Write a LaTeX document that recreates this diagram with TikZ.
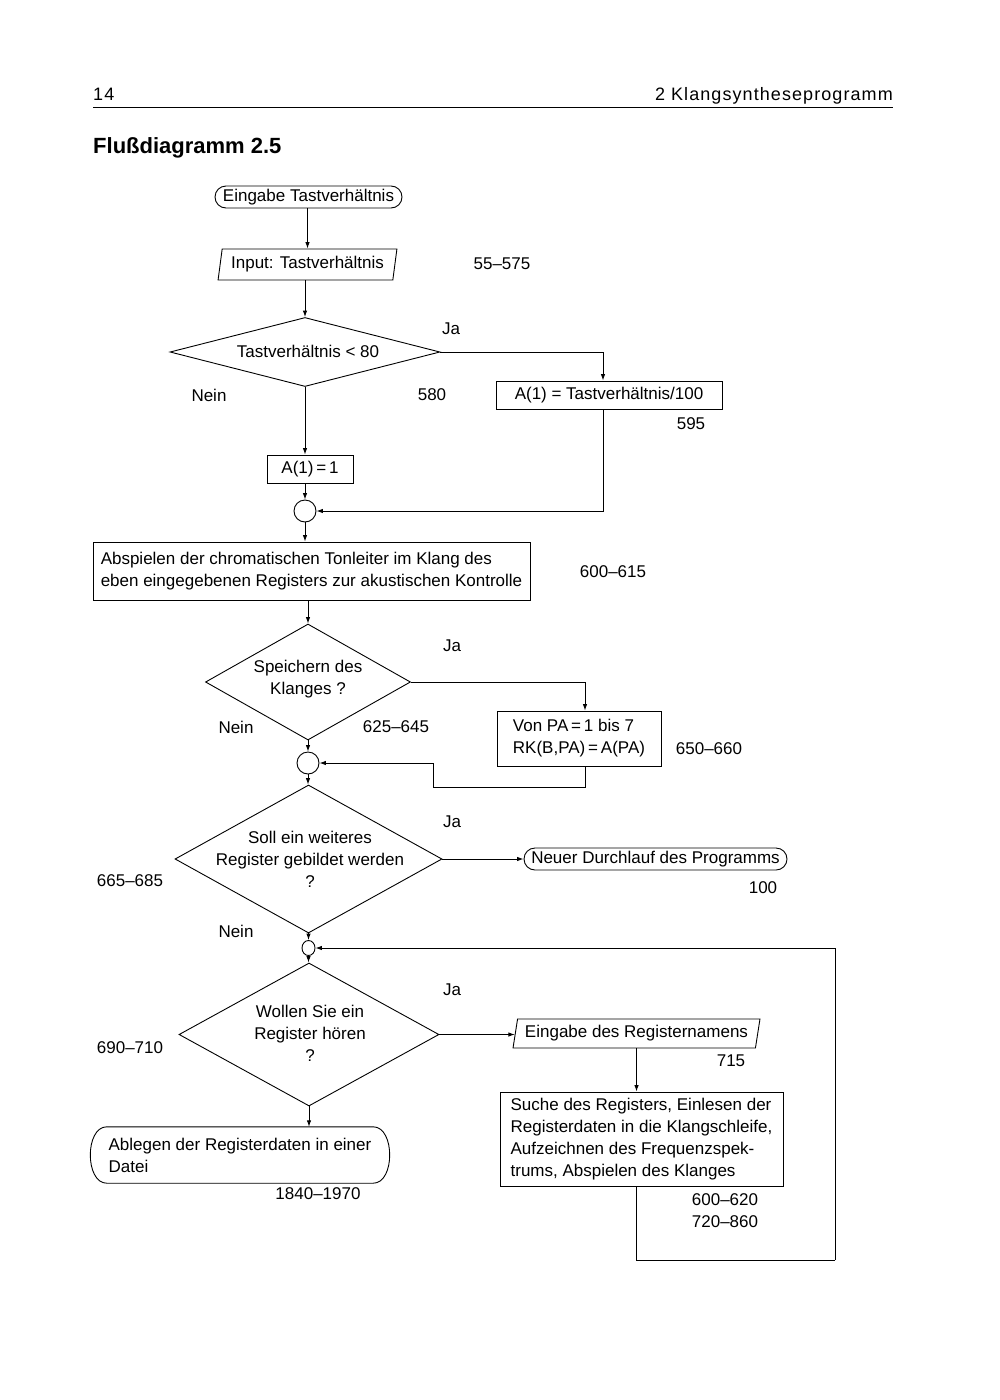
\documentclass[tikz,border=0pt]{standalone}
\usepackage{fontspec}
\setmainfont{Liberation Sans}
\newfontfamily\headfont{Liberation Sans}[LetterSpace=6]
\usetikzlibrary{shapes.geometric,shapes.misc,arrows.meta}
\begin{document}
\begin{tikzpicture}[x=1pt,y=-1pt,
  every node/.style={font=\fontsize{17}{22}\selectfont, inner sep=0pt},
  ln/.style={line width=0.9pt},
  arr/.style={line width=0.9pt,-{Latex[length=6.5pt,width=4.5pt]}},
  box/.style={draw,line width=0.9pt,rectangle,align=left},
  term/.style={draw,line width=0.9pt,rounded rectangle},
  dec/.style={draw,line width=0.9pt,diamond},
  io/.style={draw,line width=0.9pt,trapezium,trapezium stretches=true},
  junc/.style={draw,line width=0.9pt,ellipse},
  dtext/.style={align=center}
]
\useasboundingbox (0,0) rectangle (1000,1400);

% header
\node[anchor=base west,font=\headfont\fontsize{18}{22}\selectfont] (pg) at (93,100) {14};
\node[anchor=base east,font=\headfont\fontsize{18}{22}\selectfont] (chap) at (893,100) {2 Klangsyntheseprogramm};
\draw[line width=1pt] (93,107) -- (893,107);
\node[anchor=base west,font=\fontsize{22}{26}\selectfont\bfseries] (title) at (93,153) {Flußdiagramm 2.5};

% nodes
\node[term,minimum width=187,minimum height=22] (t1) at (308.5,197) {Eingabe Tastverhältnis};
\node[io,trapezium left angle=77,trapezium right angle=103,minimum width=179,minimum height=31] (p1) at (307.5,264.5) {Input: Tastverhältnis};
\node[dec,minimum width=270,minimum height=69] (d1) at (305,352) {};
\node[dtext] (d1t) at (308,351) {Tastverhältnis < 80};
\node[box,minimum width=226,minimum height=28] (b1) at (609,395) {A(1) = Tastverhältnis/100};
\node[box,minimum width=86,minimum height=28] (a1) at (310,469) {A(1)\,=\,1};
\node[junc,minimum width=22,minimum height=22] (j1) at (305,511) {};
\node[box,minimum width=437,minimum height=58] (b2) at (311.5,571) {Abspielen der chromatischen Tonleiter im Klang des\\eben eingegebenen Registers zur akustischen Kontrolle};
\node[dec,minimum width=205,minimum height=116] (d2) at (308,682) {};
\node[dtext] (d2t) at (308,679) {Speichern des\\Klanges ?};
\node[box,minimum width=164,minimum height=55] (b3) at (579,738.5) {Von PA\,=\,1 bis 7\\RK(B,PA)\,=\,A(PA)};
\node[junc,minimum width=22,minimum height=22] (j2) at (308,763) {};
\node[dec,minimum width=267,minimum height=148] (d3) at (308.5,859) {};
\node[dtext] (d3t) at (310,859) {Soll ein weiteres\\Register gebildet werden\\?};
\node[term,minimum width=263,minimum height=22] (t2) at (655.5,859) {Neuer Durchlauf des Programms};
\node[junc,minimum width=13,minimum height=15] (j3) at (308.5,948) {};
\node[dec,minimum width=260,minimum height=143] (d4) at (309,1034.5) {};
\node[dtext] (d4t) at (310,1033) {Wollen Sie ein\\Register hören\\?};
\node[io,trapezium left angle=75,trapezium right angle=105,minimum width=247,minimum height=29] (p2) at (636.5,1033.5) {Eingabe des Registernamens};
\node[box,minimum width=283,minimum height=94] (b4) at (641.5,1139) {Suche des Registers, Einlesen der\\Registerdaten in die Klangschleife,\\Aufzeichnen des Frequenzspek-\\trums, Abspielen des Klanges};
\node[minimum width=266,minimum height=56,align=left] (t3) at (240,1155) {Ablegen der Registerdaten in einer\\Datei};
\draw[ln] (t3.north west) -- (t3.north east)
  .. controls +(22,0) and +(22,0) .. (t3.south east) -- (t3.south west)
  .. controls +(-22,0) and +(-22,0) .. (t3.north west) -- cycle;

% labels
\node (l1) at (502,264) {55--575};
\node (ja1) at (451,329) {Ja};
\node (ne1) at (209,395) {Nein};
\node (l2) at (432,395) {580};
\node (l3) at (691,424) {595};
\node (l4) at (613,572) {600--615};
\node (ja2) at (452,646) {Ja};
\node (ne2) at (236,727) {Nein};
\node (l5) at (396,727) {625--645};
\node (l6) at (709,749) {650--660};
\node (ja3) at (452,822) {Ja};
\node (l7) at (130,881) {665--685};
\node (l8) at (763,888) {100};
\node (ne3) at (236,931) {Nein};
\node (ja4) at (452,990) {Ja};
\node (l9) at (130,1048) {690--710};
\node (l10) at (731,1061) {715};
\node[align=left] (l11) at (725,1210.5) {600--620\\720--860};
\node (l12) at (318,1194) {1840--1970};

% helper coordinates
\coordinate (c1) at (433,787);
\coordinate (c2) at (835,1260);

% connectors
\draw[arr] (t1.south -| p1.north) -- (p1.north);
\draw[arr] (p1.south -| d1.north) -- (d1.north);
\draw[arr] (d1.east) -| ([xshift=-6pt]b1.north);
\draw[arr] (d1.south) -- (d1.south |- a1.north);
\draw[arr] (a1.south -| j1.north) -- (j1.north);
\draw[arr] ([xshift=-6pt]b1.south) |- (j1.east);
\draw[arr] (j1.south) -- (j1.south |- b2.north);
\draw[arr] (b2.south -| d2.north) -- (d2.north);
\draw[arr] (d2.east) -| ([xshift=6pt]b3.north);
\draw[arr] (d2.south) -- (j2.north);
\draw[ln] ([xshift=6pt]b3.south) |- (c1);
\draw[arr] (c1) |- (j2.east);
\draw[arr] (j2.south) -- (d3.north -| j2.south);
\draw[arr] (d3.east) -- (d3.east -| t2.west);
\draw[arr] (d3.south) -- (j3.north);
\draw[arr] (j3.south) -- (j3.south |- d4.north);
\draw[arr] (d4.east) -- (d4.east -| p2.west);
\draw[arr] (p2.south) -- (p2.south |- b4.north);
\draw[ln] (p2.south |- b4.south) |- (c2);
\draw[arr] (c2) |- (j3.east);
\draw[arr] (d4.south) -- (d4.south |- t3.north);
\end{tikzpicture}
\end{document}
